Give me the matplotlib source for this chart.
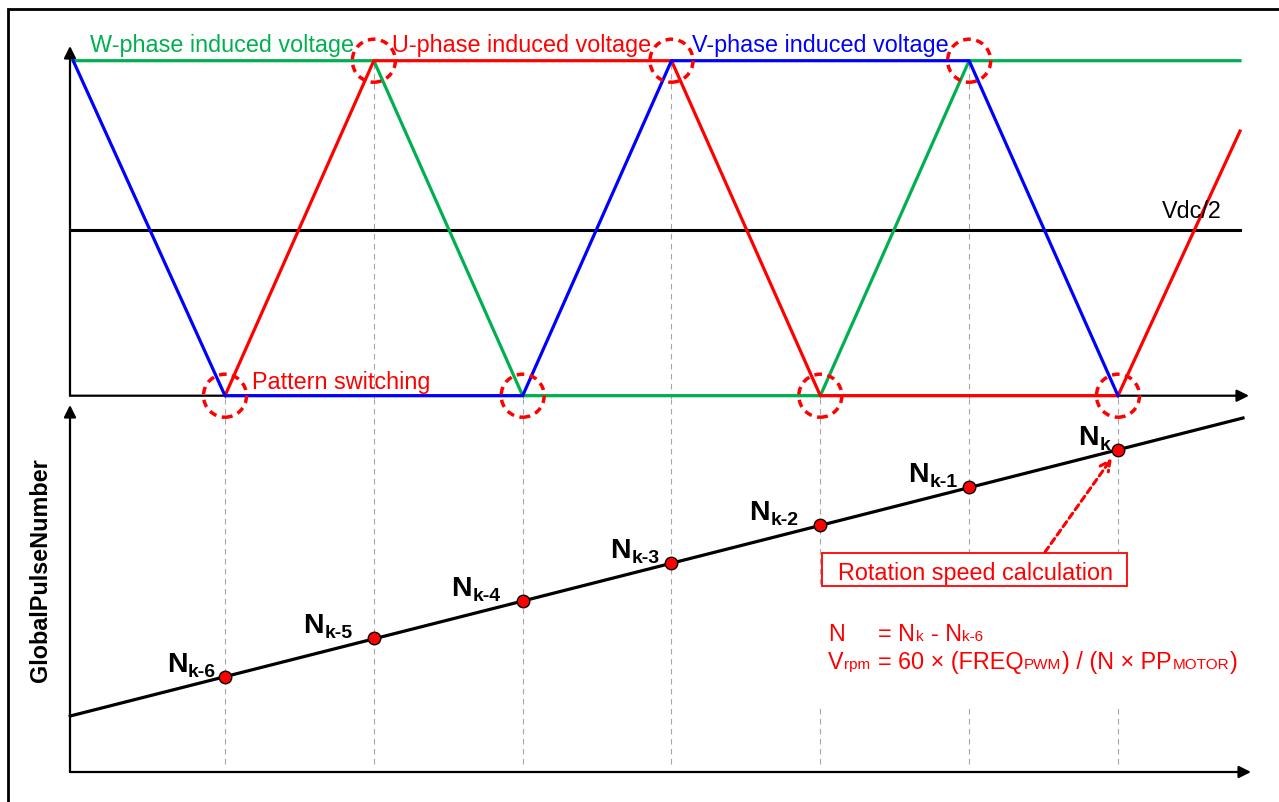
import matplotlib
matplotlib.use('Agg')
import matplotlib.pyplot as plt
from matplotlib.patches import Rectangle

plt.rcParams['font.family'] = ['Liberation Sans', 'DejaVu Sans']

# switching instants (one step = one 60 deg pattern interval) and voltage level there
switch_t = [0, 1, 2, 3, 4, 5, 6]
switch_level = [0, 1, 0, 1, 0, 1, 0]

# induced voltage breakpoints (0 = bottom rail, 1 = top rail)
w_t = [-1.02, 1, 2, 4, 5, 6.82]
w_v = [1, 1, 0, 0, 1, 1]
u_t = [0, 1, 3, 4, 6, 6.82]
u_v = [0, 1, 1, 0, 0, 0.79]
v_t = [-1.02, 0, 2, 3, 5, 6]
v_v = [1, 0, 0, 1, 1, 0]
vdc_t = [-1.04, 6.82]
vdc_half = 0.494

# GlobalPulseNumber counter
pulse_line_t = [-1.04, 6.84]
pulse_line_n = [56, 354]
pulse_n = [95, 134, 171, 209, 247, 285, 322]
sample_subs = ['k-6', 'k-5', 'k-4', 'k-3', 'k-2', 'k-1', 'k']
label_gap_px = [8, 20, 21, 11, 21, 11, 7]

# layout (reference pixel grid)
W, H = 1279, 803
T0_PX, DT_PX = 225, 148.83
TOP_ZERO_PX, TOP_SPAN_PX = 396.7, 335
BOT_ZERO_PX = 773
RED, GREEN, BLUE, GREY = '#FF0000', '#00B050', '#0000FF', '#A6A6A6'

fig = plt.figure(figsize=(W / 100, H / 100), dpi=100)


def tx(px):
    return (px - T0_PX) / DT_PX


def add_px_axes(left, top, right, bottom):
    ax = fig.add_axes([left / W, 1 - bottom / H, (right - left) / W, (bottom - top) / H])
    ax.set_xlim(tx(left), tx(right))
    ax.axis('off')
    return ax


def arrow(ax, x0, y0, x1, y1):
    ax.annotate('', xy=(x1, y1), xytext=(x0, y0), annotation_clip=False, zorder=2,
                arrowprops=dict(arrowstyle='-|>', color='k', lw=1.6, mutation_scale=18,
                                shrinkA=0, shrinkB=0))


def rich_text(ax, x, y, pieces, align='left', color='k', weight='normal'):
    # pieces of (text, size, baseline shift in pt) laid out one after another
    renderer = fig.canvas.get_renderer()
    items = []
    for s, size, dy in pieces:
        lead = (len(s) - len(s.lstrip(' '))) * 0.278 * size
        trail = (len(s) - len(s.rstrip(' '))) * 0.278 * size
        t = ax.annotate(s.strip(' '), (x, y), xytext=(0, dy), textcoords='offset points',
                        fontsize=size, color=color, fontweight=weight, va='baseline',
                        ha='left', annotation_clip=False, zorder=6)
        w = t.get_window_extent(renderer).width * 72 / fig.dpi
        items.append((t, lead, w + 0.6, trail, dy))
    total = sum(a + b + c for _, a, b, c, _ in items)
    off = -total if align == 'right' else 0
    starts = []
    for t, lead, w, trail, dy in items:
        off += lead
        t.xyann = (off, dy)
        starts.append(off)
        off += w + trail
    return starts


# ---------------- top panel: induced voltages ----------------
ax1 = add_px_axes(60, 25, 1265, 400)
ax1.set_ylim((TOP_ZERO_PX - 400) / TOP_SPAN_PX, (TOP_ZERO_PX - 25) / TOP_SPAN_PX)

ax1.vlines(switch_t, ax1.get_ylim()[0], switch_level, colors=GREY, lw=0.8,
           linestyles=(0, (5, 4)), zorder=1)
ax1.plot(vdc_t, [vdc_half, vdc_half], color='k', lw=2.2, zorder=2)
ax1.plot(w_t, w_v, color=GREEN, lw=2.3, zorder=3)
ax1.plot(u_t, u_v, color=RED, lw=2.3, zorder=3)
ax1.plot(v_t, v_v, color=BLUE, lw=2.3, zorder=3)
ax1.scatter(switch_t, switch_level, s=960, facecolors='none', edgecolors=RED,
            linewidths=2.5, linestyle=(0, (2.2, 1.6)), zorder=4, clip_on=False)

x_org = tx(70)
arrow(ax1, x_org, 0, tx(1249), 0)
arrow(ax1, x_org, 0, x_org, (TOP_ZERO_PX - 47) / TOP_SPAN_PX)

ax1.text(tx(90), 1.03, 'W-phase induced voltage', color=GREEN, fontsize=16.8, va='baseline')
ax1.text(tx(392), 1.03, 'U-phase induced voltage', color=RED, fontsize=16.8, va='baseline')
ax1.text(tx(692), 1.03, 'V-phase induced voltage', color=BLUE, fontsize=16.8, va='baseline')
ax1.text(tx(252), 0.022, 'Pattern switching', color=RED, fontsize=16.8, va='baseline')
ax1.text(tx(1162), 0.533, 'Vdc/2', color='k', fontsize=16.8, va='baseline')

# ---------------- bottom panel: GlobalPulseNumber ----------------
ax2 = add_px_axes(60, 400, 1265, 790)
ax2.set_ylim(BOT_ZERO_PX - 790, BOT_ZERO_PX - 400)

ax2.vlines(switch_t, 8, ax2.get_ylim()[1], colors=GREY, lw=0.8,
           linestyles=(0, (5, 4)), zorder=1)
ax2.plot(pulse_line_t, pulse_line_n, color='k', lw=2.3, zorder=3)
ax2.plot(switch_t, pulse_n, 'o', color=RED, mec='k', mew=1.0, ms=9, zorder=4)

x_org = tx(70)
arrow(ax2, x_org, 0, tx(1251), 0)
arrow(ax2, x_org, 0, x_org, BOT_ZERO_PX - 406)

for t, n, sub, gap in zip(switch_t, pulse_n, sample_subs, label_gap_px):
    pieces = [('N', 20.5, 4), (sub, 14, 1)]
    rich_text(ax2, t, n, pieces, align='right', weight='bold')
    # shift whole label left by the gap to the dot
    for child in ax2.texts[-2:]:
        child.xyann = (child.xyann[0] - gap * 0.72, child.xyann[1])

fig.text(41 / W, 1 - 570 / H, 'GlobalPulseNumber', rotation=90, fontsize=16.8,
         fontweight='bold', ha='center', va='center')

# rotation speed calculation note
ax2.add_patch(Rectangle((tx(822), BOT_ZERO_PX - 587), (1127 - 822) / DT_PX, 33,
                        fc='white', ec=RED, lw=1.3, zorder=5))
ax2.add_patch(Rectangle((tx(812), BOT_ZERO_PX - 708), (1262 - 812) / DT_PX, 121,
                        fc='white', ec='none', zorder=2))
ax2.text(tx(975), BOT_ZERO_PX - 580, 'Rotation speed calculation', color=RED,
         fontsize=16.8, ha='center', va='baseline', zorder=6)
ax2.annotate('', xy=(tx(1112), BOT_ZERO_PX - 459), xytext=(tx(1045), BOT_ZERO_PX - 553),
             arrowprops=dict(arrowstyle='->', color=RED, lw=2.2, linestyle=(0, (2.0, 1.4)),
                             shrinkA=0, shrinkB=0, mutation_scale=18), zorder=6)

line2 = [('V', 16.8, 0), ('rpm', 11, 0), (' = 60 × (FREQ', 16.8, 0), ('PWM', 11, 0),
         (') / (N × PP', 16.8, 0), ('MOTOR', 11, 0), (')', 16.8, 0)]
starts = rich_text(ax2, tx(828), BOT_ZERO_PX - 669, line2, color=RED)
rich_text(ax2, tx(828), BOT_ZERO_PX - 641, [('N', 16.8, 0)], color=RED)
line1 = [('= N', 16.8, 0), ('k', 11, 0), (' - N', 16.8, 0), ('k-6', 11, 0)]
rich_text(ax2, tx(828), BOT_ZERO_PX - 641, line1, color=RED)
for child in ax2.texts[-4:]:
    child.xyann = (child.xyann[0] + starts[2], child.xyann[1])

# outer frame (cut by the picture edge on the right and bottom)
fig.add_artist(Rectangle((8 / W, -0.1), 1.2, 1.1 - 9.5 / H, transform=fig.transFigure,
                         fill=False, ec='k', lw=2.0))

fig.savefig('out.png', dpi=100)
